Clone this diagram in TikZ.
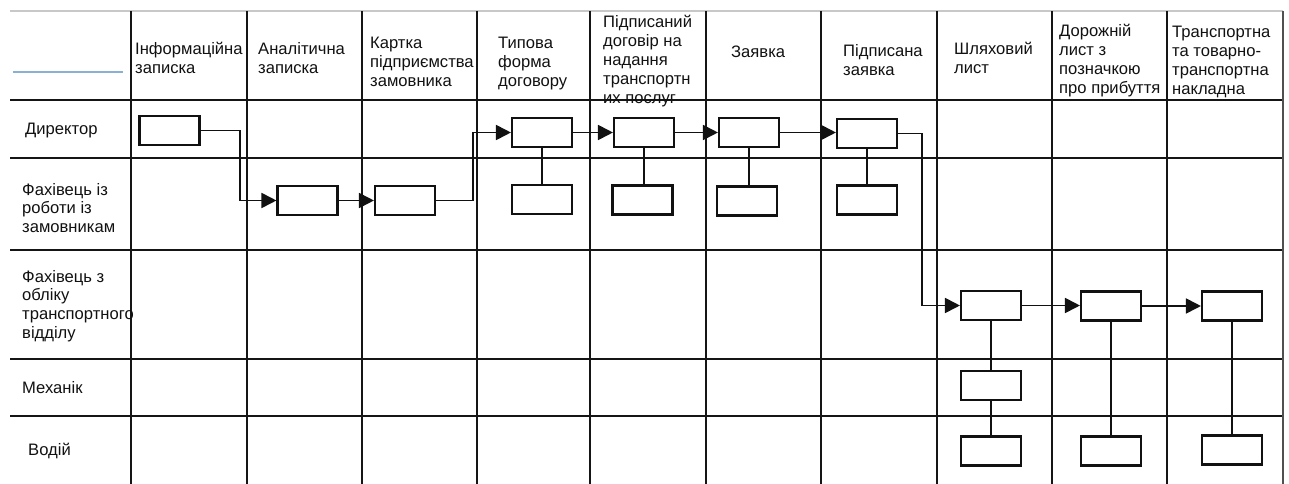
\documentclass[tikz,border=0pt]{standalone}
\usepackage{fontspec}
\setmainfont{Liberation Sans}
\usetikzlibrary{arrows.meta}
\definecolor{ink}{HTML}{111111}
\definecolor{gridc}{HTML}{151515}
\definecolor{topc}{HTML}{C8C8C8}
\definecolor{bluec}{HTML}{8AB0D6}
\newcommand{\hcell}[1]{\begin{tabular}[t]{@{}l@{}}#1\end{tabular}}
\tikzset{
  lbl/.style={anchor=base west, inner sep=0pt, text=ink,
    font=\fontsize{16.6pt}{18.8pt}\selectfont},
  gridline/.style={draw=gridc, line width=2.2pt},
  box/.style={draw=ink, line width=2.1pt, fill=white, minimum width=60pt,
    minimum height=29pt, inner sep=0pt},
  conn/.style={draw=ink, line width=1.8pt},
  arr/.style={conn, -{Triangle[length=15pt,width=15pt]}}
}
\begin{document}
\begin{tikzpicture}[x=1pt,y=-1pt]
\useasboundingbox (0,0) rectangle (1289,484);
% table frame
\draw[draw=topc, line width=1.6pt] (10,11) -- (1283,11);
\draw[draw=bluec, line width=1.6pt] (13,72) -- (123,72);
\foreach \y in {100,158,250,359,416}
  \draw[gridline] (10,\y) -- (1283,\y);
\foreach \x in {131,247,362,477,590,706,821,937,1052,1167}
  \draw[gridline] (\x,11) -- (\x,484);
\draw[draw=gridc!75, line width=2pt] (1283,11) -- (1283,484);
% header texts
\node[lbl] (h1) at (135,55) {\hcell{Інформаційна\\записка}};
\node[lbl] (h2) at (258,55) {\hcell{Аналітична\\записка}};
\node[lbl] (h3) at (370,48.5) {\hcell{Картка\\підприємства\\замовника}};
\node[lbl] (h4) at (498,48.5) {\hcell{Типова\\форма\\договору}};
\node[lbl] (h5) at (603,28) {\hcell{Підписаний\\договір на\\надання\\транспортн\\их послуг}};
\node[lbl] (h6) at (731,58) {\hcell{Заявка}};
\node[lbl] (h7) at (843,57) {\hcell{Підписана\\заявка}};
\node[lbl] (h8) at (954,55) {\hcell{Шляховий\\лист}};
\node[lbl] (h9) at (1059,37) {\hcell{Дорожній\\лист з\\позначкою\\про прибуття}};
\node[lbl] (h10) at (1172,38) {\hcell{Транспортна\\та товарно-\\транспортна\\накладна}};
% row labels
\node[lbl] (r1) at (25,135) {\hcell{Директор}};
\node[lbl] (r2) at (22,195) {\hcell{Фахівець із\\роботи із\\замовникам}};
\node[lbl] (r3) at (22,282) {\hcell{Фахівець з\\обліку\\транспортного\\відділу}};
\node[lbl] (r4) at (22,393) {\hcell{Механік}};
\node[lbl] (r5) at (28,455) {\hcell{Водій}};
% boxes
\node[box] (b1) at (169.5,130.5) {};
\node[box] (b2) at (307.5,200.5) {};
\node[box] (b3) at (405,200.5) {};
\node[box] (b4) at (542,132.5) {};
\node[box] (b5) at (644,132.5) {};
\node[box] (b6) at (749,132.5) {};
\node[box] (b7) at (867,133.5) {};
\node[box] (c4) at (542,199.5) {};
\node[box] (c5) at (642.5,200) {};
\node[box] (c6) at (747,201) {};
\node[box] (c7) at (867,200) {};
\node[box] (b8) at (991,305.5) {};
\node[box] (b9) at (1111,306) {};
\node[box] (b10) at (1232,306) {};
\node[box] (m8) at (991,385.5) {};
\node[box] (d8) at (991,451) {};
\node[box] (d9) at (1111,451) {};
\node[box] (d10) at (1232,450) {};
% bend coordinates
\coordinate (k1) at (240,0);
\coordinate (k2) at (473,0);
\coordinate (k3) at (922,0);
% connectors
\draw[arr] (b1.east) -- (b1.east -| k1) |- (b2.west);
\draw[arr] (b2.east) -- (b3.west);
\draw[arr] (b3.east) -- (b3.east -| k2) |- (b4.west);
\draw[arr] (b4.east) -- (b5.west);
\draw[arr] (b5.east) -- (b6.west);
\draw[arr] (b6.east) -- (b6.east -| b7.west);
\draw[arr] (b7.east) -- (b7.east -| k3) |- (b8.west);
\draw[arr] (b8.east) -- (b8.east -| b9.west);
\draw[arr] (b9.east) -- (b9.east -| b10.west);
% vertical links
\draw[conn] (b4.south) -- (c4.north);
\draw[conn] (b5.south) -- (b5.south |- c5.north);
\draw[conn] (b6.south) -- (b6.south |- c6.north);
\draw[conn] (b7.south) -- (c7.north);
\draw[conn] (b8.south) -- (m8.north);
\draw[conn] (m8.south) -- (d8.north);
\draw[conn] (b9.south) -- (d9.north);
\draw[conn] (b10.south) -- (d10.north);
\end{tikzpicture}
\end{document}
